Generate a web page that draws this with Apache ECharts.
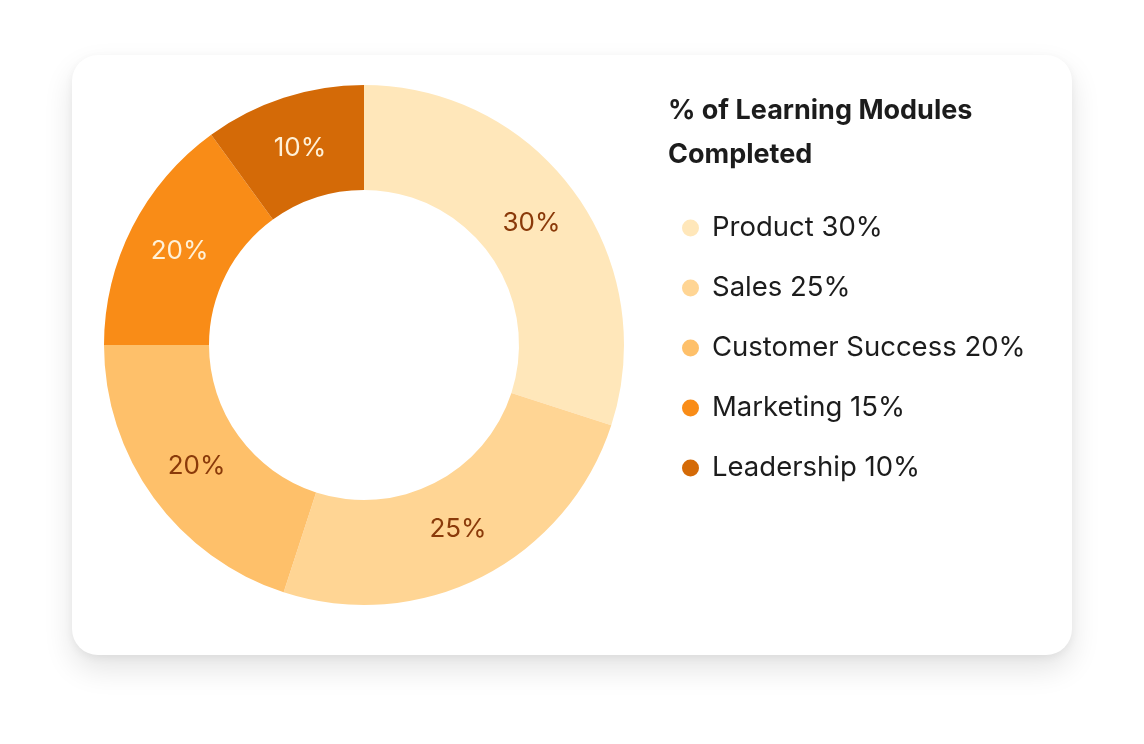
<!DOCTYPE html>
<html>
<head>
<meta charset="utf-8">
<script src="https://cdn.jsdelivr.net/npm/echarts@6/dist/echarts.min.js"></script>
<style>
  html, body { margin: 0; padding: 0; background: #ffffff; }
  #card {
    position: absolute; left: 72px; top: 55px; width: 1000px; height: 600px;
    background: #ffffff; border-radius: 26px;
    box-shadow: 0 14px 30px rgba(0,0,0,0.11), 0 3px 8px rgba(0,0,0,0.05);
  }
  #chart { position: absolute; left: 0; top: 0; width: 1144px; height: 744px; }
</style>
</head>
<body>
<div id="card"></div>
<div id="chart"></div>
<script>
const titleText = "% of Learning Modules\nCompleted";
const categories = ["Product", "Sales", "Customer Success", "Marketing", "Leadership"];
const values = [30, 25, 20, 15, 10];
const sliceLabels = ["30%", "25%", "20%", "20%", "10%"];
const colors = ["#FFE7BA", "#FFD594", "#FEC06A", "#F98C17", "#D46A07"];
const labelColors = ["#8A3A0A", "#8A3A0A", "#8A3A0A", "#FFF1D8", "#FFF1D8"];

const chart = echarts.init(document.getElementById('chart'), null, { renderer: 'canvas' });
const ringData = categories.map((c, i) => ({
  name: c,
  value: values[i],
  itemStyle: { color: colors[i] }
}));
const labelData = categories.map((c, i) => ({
  name: c,
  value: values[i],
  itemStyle: { color: 'rgba(0,0,0,0)' },
  label: { color: labelColors[i] }
}));
chart.setOption({
  backgroundColor: 'transparent',
  animation: false,
  title: {
    text: titleText,
    left: 663, top: 84,
    textStyle: { fontFamily: 'Inter', fontWeight: 'bold', fontSize: 27, lineHeight: 44, color: '#1c1c1c' }
  },
  legend: {
    orient: 'vertical',
    left: 677, top: 208,
    icon: 'circle',
    itemWidth: 17, itemHeight: 17,
    itemGap: 30,
    selectedMode: false,
    formatter: function (name) {
      const i = categories.indexOf(name);
      return name + ' ' + values[i] + '%';
    },
    textStyle: { fontFamily: 'Inter', fontSize: 27.5, lineHeight: 30, color: '#1c1c1c', padding: [0, 0, 0, 8] },
    data: categories
  },
  series: [{
    type: 'pie',
    center: [364, 345],
    radius: [155, 260],
    startAngle: 90,
    clockwise: true,
    silent: true,
    label: { show: false },
    labelLine: { show: false },
    itemStyle: { borderWidth: 0 },
    data: ringData
  }, {
    type: 'pie',
    center: [364, 345],
    radius: [148, 260],
    startAngle: 90,
    clockwise: true,
    silent: true,
    avoidLabelOverlap: false,
    label: {
      show: true,
      position: 'inside',
      fontFamily: 'Inter',
      fontSize: 26,
      formatter: function (p) { return sliceLabels[p.dataIndex]; }
    },
    labelLine: { show: false },
    itemStyle: { borderWidth: 0 },
    data: labelData
  }]
});
</script>
</body>
</html>
